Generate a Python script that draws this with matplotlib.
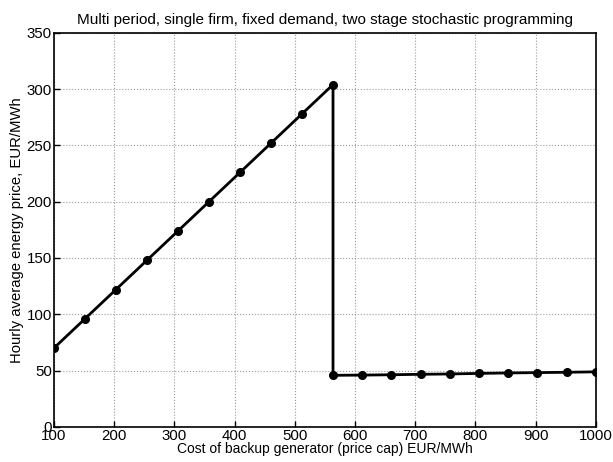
import numpy as np
import matplotlib.pyplot as plt

# price cap values (EUR/MWh) and resulting hourly average energy price
cap_low = [100, 151.5, 203, 254.5, 306, 357.5, 409, 460.5, 512, 563.5]
price_low = [70, 96, 122, 148, 174, 200, 226, 252, 278, 304]
cap_high = [563.5, 612, 660.5, 709, 757.5, 806, 854.5, 903, 951.5, 1000]
price_high = [45.8, 46.0, 46.3, 46.7, 47.0, 47.5, 47.9, 48.2, 48.5, 48.9]

x_ticks = [100, 200, 300, 400, 500, 600, 700, 800, 900, 1000]
y_ticks = [0, 50, 100, 150, 200, 250, 300, 350]

plt.rcParams['font.family'] = ['Liberation Sans', 'DejaVu Sans']

fig = plt.figure(figsize=(6.13, 4.62), dpi=100)
ax = fig.add_axes([0.088, 0.076, 0.884, 0.853])

x = cap_low + cap_high
y = price_low + price_high
ax.plot(x, y, color='black', linewidth=2, marker='o', markersize=5.5)

ax.set_xlim(100, 1000)
ax.set_ylim(0, 350)
ax.set_xticks(x_ticks)
ax.set_yticks(y_ticks)
ax.grid(True, linestyle=':', color='#999999', linewidth=0.8)
ax.tick_params(direction='in', length=4, labelsize=10.8, pad=1.5, width=1)
for s in ax.spines.values():
    s.set_linewidth(1.2)

ax.set_title('Multi period, single firm, fixed demand, two stage stochastic programming',
             fontsize=11, pad=6)
ax.set_xlabel('Cost of backup generator (price cap) EUR/MWh', fontsize=10, labelpad=-1)
ax.set_ylabel('Hourly average energy price, EUR/MWh', fontsize=10.7, labelpad=2)

plt.savefig('out.png', dpi=100)
